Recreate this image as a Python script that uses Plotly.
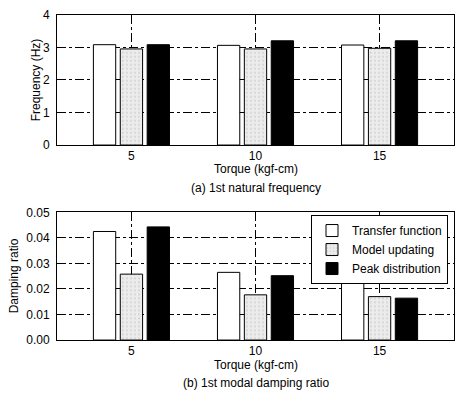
import plotly.graph_objects as go

torque = [5, 10, 15]
series = ["Transfer function", "Model updating", "Peak distribution"]
freq = {
    "Transfer function": [3.08, 3.06, 3.07],
    "Model updating": [2.95, 2.95, 2.97],
    "Peak distribution": [3.08, 3.20, 3.20],
}
damp = {
    "Transfer function": [0.0425, 0.0265, 0.0244],
    "Model updating": [0.0258, 0.0177, 0.0170],
    "Peak distribution": [0.0443, 0.0252, 0.0164],
}

styles = {
    "Transfer function": dict(color="white"),
    "Model updating": dict(color="#e4e4e4",
                           pattern=dict(shape=".", fgcolor="#888888", bgcolor="#ececec",
                                        size=4, solidity=0.12)),
    "Peak distribution": dict(color="black"),
}

FONT = "Liberation Sans, Arial, sans-serif"
fig = go.Figure()
for i, s in enumerate(series):
    fig.add_trace(go.Bar(x=torque, y=freq[s], name=s, showlegend=False,
                         marker=dict(**styles[s], line=dict(color="black", width=1)),
                         xaxis="x", yaxis="y"))
    fig.add_trace(go.Bar(x=torque, y=damp[s], name=s, showlegend=True,
                         marker=dict(**styles[s], line=dict(color="black", width=1)),
                         xaxis="x2", yaxis="y2"))

W, H = 456, 404
xdom = [57 / W, 454 / W]
axis_common = dict(showgrid=True, gridcolor="black", griddash="dashdot", gridwidth=1,
                   showline=True, linecolor="black", linewidth=1, mirror=True,
                   ticks="", zeroline=False,
                   tickfont=dict(family=FONT, size=12, color="black"))

fig.update_layout(
    width=W, height=H,
    margin=dict(l=0, r=0, t=0, b=0),
    paper_bgcolor="white", plot_bgcolor="white",
    barmode="group", bargap=0.35, bargroupgap=0.17,
    font=dict(family=FONT, size=12, color="black"),
    xaxis=dict(domain=xdom, range=[2, 18], tickvals=torque, anchor="y", **axis_common),
    yaxis=dict(domain=[1 - 143 / H, 1 - 8 / H], range=[0, 4], tickvals=[0, 1, 2, 3, 4],
               anchor="x", **axis_common),
    xaxis2=dict(domain=xdom, range=[2, 18], tickvals=torque, anchor="y2", **axis_common),
    yaxis2=dict(domain=[1 - 345 / H, 1 - 212.7 / H], range=[0, 0.05],
                tickvals=[0, 0.01, 0.02, 0.03, 0.04, 0.05], tickformat=".2f",
                anchor="x2", **axis_common),
    legend=dict(x=311 / W, y=1 - 215.5 / H, xanchor="left", yanchor="top",
                bordercolor="black", borderwidth=1, bgcolor="white",
                font=dict(family=FONT, size=12, color="black"),
                tracegroupgap=0, itemwidth=30),
)
fig.update_yaxes(ticklabelstandoff=4)
fig.update_xaxes(ticklabelstandoff=0)

annots = [
    dict(text="Frequency (Hz)", x=36 / W, y=1 - 76 / H, textangle=-90),
    dict(text="Torque (kgf-cm)", x=256 / W, y=1 - 168 / H),
    dict(text="(a) 1st natural frequency", x=256 / W, y=1 - 187 / H),
    dict(text="Damping ratio", x=14 / W, y=1 - 279 / H, textangle=-90),
    dict(text="Torque (kgf-cm)", x=256 / W, y=1 - 370.5 / H),
    dict(text="(b) 1st modal damping ratio", x=256 / W, y=1 - 390 / H),
]
for a in annots:
    fig.add_annotation(xref="paper", yref="paper", showarrow=False,
                       xanchor="center", yanchor="middle", borderpad=0,
                       font=dict(family=FONT, size=12, color="black"), **a)

fig.write_html("out.html")
